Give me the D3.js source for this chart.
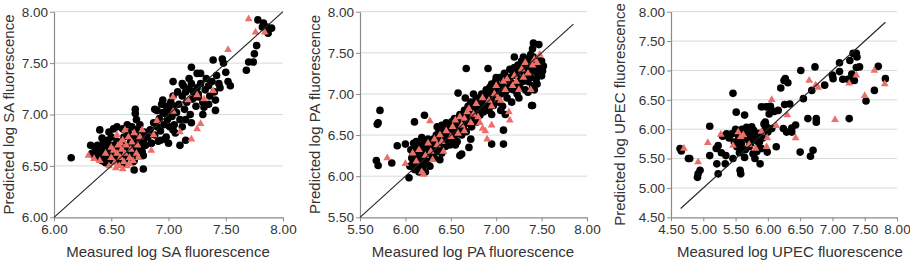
<!DOCTYPE html>
<html><head><meta charset="utf-8">
<script src="https://cdn.jsdelivr.net/npm/d3@7"></script>
<style>
html,body{margin:0;padding:0;background:#fff;}
svg{display:block;font-family:"Liberation Sans",Arial,Helvetica,sans-serif;}
</style></head>
<body>
<svg id="chart" width="910" height="262"></svg>
<script>
// ---------- DATA ----------
const saTicks = [6.00, 6.50, 7.00, 7.50, 8.00];
const paTicks = [5.50, 6.00, 6.50, 7.00, 7.50, 8.00];
const upecXTicks = [4.50, 5.00, 5.50, 6.00, 6.50, 7.00, 7.50, 8.00];
const upecYTicks = [4.50, 5.00, 5.50, 6.00, 6.50, 7.00, 7.50, 8.00];

const saXTitle = "Measured log SA fluorescence";
const saYTitle = "Predicted log SA fluorescence";
const paXTitle = "Measured log PA fluorescence";
const paYTitle = "Predicted log PA fluorescence";
const upecXTitle = "Measured log UPEC fluorescence";
const upecYTitle = "Predicted log UPEC fluorescence";

const saLine = [[6.0, 6.0], [8.0, 8.0]];
const paLine = [[5.5, 5.5], [7.85, 7.85]];
const upecLine = [[4.65, 4.65], [7.82, 7.82]];

const saBlack = [
[6.15,6.58],[6.32,6.70],[6.40,6.85],[6.55,6.88],[6.64,6.90],[6.71,7.05],[6.71,7.01],[6.69,6.54],[6.70,6.46],[6.78,6.47],
[6.88,7.05],[6.95,7.14],[6.97,7.01],[7.04,7.32],[7.12,7.30],[7.20,7.46],[7.28,7.40],[7.39,7.53],[7.47,7.54],[7.48,7.50],
[7.50,7.41],[7.52,7.32],[7.54,7.28],[7.41,7.04],[7.41,7.14],[7.31,7.07],[7.26,7.17],[7.15,6.75],[7.12,6.88],[7.04,6.85],
[6.98,6.78],[6.93,6.75],[6.85,6.72],[7.68,7.43],[7.70,7.51],[7.74,7.51],[7.75,7.59],[7.77,7.67],[7.78,7.92],[7.83,7.89],
[7.86,7.85],[7.87,7.79],[7.90,7.84],[7.82,7.85],
[6.33,6.62],[6.35,6.60],[6.36,6.65],[6.38,6.58],[6.40,6.62],[6.41,6.68],[6.42,6.55],[6.43,6.72],[6.44,6.64],[6.45,6.60],
[6.46,6.70],[6.47,6.75],[6.48,6.57],[6.49,6.66],[6.50,6.62],[6.50,6.78],[6.51,6.55],[6.52,6.70],[6.53,6.64],[6.54,6.58],
[6.55,6.74],[6.45,6.53],[6.38,6.70],[6.42,6.77],[6.48,6.83],[6.52,6.86],
[6.56,6.60],[6.57,6.68],[6.58,6.54],[6.59,6.72],[6.60,6.63],[6.61,6.78],[6.62,6.57],[6.63,6.70],[6.64,6.65],[6.65,6.82],
[6.66,6.60],[6.67,6.74],[6.68,6.68],[6.69,6.79],[6.70,6.62],[6.71,6.72],[6.72,6.85],[6.73,6.66],[6.74,6.76],[6.75,6.70],
[6.76,6.80],[6.77,6.64],[6.78,6.74],[6.79,6.83],[6.80,6.70],[6.72,6.95],[6.75,6.90],[6.68,6.88],[6.60,6.86],[6.62,6.52],
[6.70,6.55],[6.78,6.60],
[6.82,6.78],[6.84,6.85],[6.85,6.72],[6.87,6.92],[6.88,6.80],[6.90,6.88],[6.91,6.74],[6.92,6.96],[6.93,6.84],[6.95,7.02],
[6.96,6.90],[6.97,6.76],[6.98,7.08],[6.99,6.95],[7.00,7.05],[7.01,6.88],[7.02,7.12],[7.03,6.98],[7.04,7.18],[7.05,7.08],
[7.06,6.82],[7.07,7.02],[7.08,7.22],[7.09,7.10],[7.10,6.95],[6.94,7.10],[6.90,7.04],[7.00,6.72],[7.05,6.90],[7.10,6.70],
[7.12,7.18],[7.13,7.28],[7.14,7.05],[7.15,7.22],[7.16,7.12],[7.18,7.25],[7.19,7.00],[7.20,7.30],[7.21,7.15],[7.22,7.22],
[7.24,7.08],[7.25,7.26],[7.26,7.20],[7.28,7.30],[7.30,7.12],[7.32,7.24],[7.33,7.35],[7.35,7.28],[7.36,7.18],[7.38,7.32],
[7.40,7.22],[7.42,7.38],[7.44,7.30],[7.45,7.26],[7.30,7.00],[7.20,6.92],[7.15,6.95],[7.25,7.40],[7.35,7.10],[7.18,7.35]
];
const saRed = [
[7.70,7.93],[7.76,7.80],[7.84,7.80],[7.52,7.63],[7.39,7.23],[7.31,7.15],[7.25,7.19],[7.17,7.14],[7.04,7.17],[7.04,7.03],
[7.10,6.83],[7.25,6.86],[7.20,6.76],[7.28,6.91],[6.85,6.65],[6.87,6.80],[6.90,6.94],
[6.30,6.60],[6.35,6.57],[6.40,6.55],[6.45,6.62],[6.48,6.50],[6.50,6.58],[6.52,6.65],[6.53,6.53],[6.55,6.62],[6.56,6.70],
[6.57,6.50],[6.58,6.58],[6.59,6.66],[6.60,6.75],[6.61,6.54],[6.62,6.62],[6.63,6.70],[6.64,6.50],[6.65,6.78],[6.66,6.58],
[6.67,6.66],[6.68,6.73],[6.69,6.55],[6.70,6.82],[6.72,6.62],[6.73,6.70],[6.75,6.78],[6.77,6.85],[6.55,6.80],[6.62,6.85],
[6.58,6.72],[6.50,6.68],[6.66,6.52],[6.74,6.58],[6.54,6.48],[6.60,6.47]
];

const paBlack = [
[5.72,6.80],[5.70,6.65],[5.69,6.63],[5.68,6.19],[5.70,6.13],[5.85,6.16],[5.91,6.37],[6.00,6.39],[6.04,5.98],[6.10,6.66],
[6.21,6.74],[6.67,7.31],[6.91,7.31],[6.95,6.39],[7.08,6.39],[7.08,6.56],[7.40,6.86],[7.39,6.86],[7.41,7.62],[7.47,7.60],
[7.40,7.55],[6.62,6.27],[6.60,6.25],[6.58,7.01],
[6.06,6.32],[6.07,6.22],[6.08,6.15],[6.09,6.40],[6.10,6.28],[6.10,6.08],[6.11,6.35],[6.12,6.20],[6.13,6.12],[6.14,6.30],
[6.15,6.25],[6.15,6.05],[6.16,6.38],[6.17,6.18],[6.18,6.28],[6.19,6.10],[6.20,6.33],[6.20,6.22],[6.21,6.42],[6.22,6.15],
[6.23,6.27],[6.24,6.36],[6.25,6.20],[6.26,6.30],[6.27,6.12],[6.28,6.40],[6.29,6.25],[6.30,6.33],[6.08,6.25],[6.12,6.42],
[6.18,6.47],[6.25,6.45],[6.05,6.12],[6.22,6.05],
[6.31,6.45],[6.32,6.22],[6.33,6.38],[6.34,6.50],[6.35,6.30],[6.36,6.42],[6.37,6.55],[6.38,6.35],[6.39,6.46],[6.40,6.28],
[6.41,6.52],[6.42,6.40],[6.43,6.60],[6.44,6.36],[6.45,6.48],[6.46,6.56],[6.47,6.44],[6.48,6.62],[6.49,6.38],[6.50,6.52],
[6.51,6.66],[6.52,6.45],[6.53,6.58],[6.54,6.70],[6.55,6.50],[6.56,6.62],[6.57,6.42],[6.58,6.68],[6.59,6.56],[6.60,6.75],
[6.35,6.60],[6.40,6.62],[6.45,6.65],[6.50,6.40],[6.55,6.38],[6.38,6.20],
[6.61,6.62],[6.62,6.50],[6.63,6.72],[6.64,6.58],[6.65,6.80],[6.66,6.66],[6.67,6.54],[6.68,6.76],[6.69,6.85],[6.70,6.64],
[6.71,6.72],[6.72,6.90],[6.73,6.60],[6.74,6.80],[6.75,6.70],[6.76,6.88],[6.77,6.76],[6.78,6.95],[6.79,6.66],[6.80,6.84],
[6.81,6.92],[6.82,6.74],[6.83,6.82],[6.84,7.00],[6.85,6.88],[6.86,6.78],[6.87,6.96],[6.88,6.85],[6.89,7.05],[6.90,6.92],
[6.70,6.35],[6.72,6.45],[6.66,6.95],[6.75,7.00],
[6.91,7.00],[6.92,6.80],[6.93,7.08],[6.94,6.90],[6.95,7.12],[6.96,6.98],[6.97,6.86],[6.98,7.05],[6.99,7.15],[7.00,6.95],
[7.01,7.02],[7.02,7.10],[7.03,6.90],[7.04,7.20],[7.05,7.00],[7.06,7.08],[7.07,6.85],[7.08,7.15],[7.09,7.25],[7.10,7.02],
[7.11,7.12],[7.12,6.95],[7.13,7.20],[7.14,7.06],[7.15,7.30],[7.16,7.14],[7.17,6.90],[7.18,7.22],[7.19,7.05],[7.20,7.32],
[7.00,7.20],[7.05,6.80],[7.10,6.75],[6.95,6.75],
[7.21,7.12],[7.22,7.25],[7.23,7.00],[7.24,7.35],[7.25,7.18],[7.26,7.08],[7.27,7.28],[7.28,7.40],[7.29,7.15],[7.30,7.32],
[7.31,7.22],[7.32,7.05],[7.33,7.38],[7.34,7.26],[7.35,7.15],[7.36,7.42],[7.37,7.30],[7.38,7.20],[7.39,7.35],[7.40,7.10],
[7.41,7.45],[7.42,7.28],[7.43,7.38],[7.44,7.18],[7.45,7.32],[7.46,7.24],[7.47,7.40],[7.48,7.30],[7.49,7.36],[7.50,7.22],
[7.51,7.28],[7.52,7.34],[7.30,7.45],[7.35,7.02],[7.25,6.95],[7.38,7.48],[7.45,7.12],[7.20,7.45],[7.42,7.05],[7.50,7.40]
];
const paRed = [
[5.80,6.22],[6.00,6.15],[6.08,6.28],[6.12,6.18],[6.15,6.32],[6.18,6.05],[6.20,6.02],[6.22,6.25],[6.25,6.40],[6.27,6.67],
[6.28,6.30],[6.30,6.20],[6.32,6.45],[6.35,6.38],[6.38,6.50],[6.40,6.42],[6.45,6.55],[6.50,6.48],[6.52,6.60],[6.55,6.68],
[6.58,6.52],[6.60,6.72],[6.62,6.62],[6.65,6.70],[6.68,6.78],[6.70,6.82],[6.72,6.65],[6.75,6.75],[6.78,6.88],[6.80,6.72],
[6.82,6.65],[6.85,6.58],[6.88,6.55],[6.90,6.45],[6.92,6.92],[6.95,6.62],[6.95,6.85],[6.98,7.00],[7.00,7.10],[7.02,6.95],
[7.05,6.92],[7.08,7.15],[7.10,7.05],[7.12,7.18],[7.14,6.78],[7.15,6.68],[7.18,7.10],[7.20,7.22],[7.22,7.15],[7.25,7.05],
[7.28,7.30],[7.30,7.20],[7.32,7.38],[7.35,7.25],[7.38,7.05],[7.40,7.35],[7.42,7.42],[7.45,7.38],[7.48,7.48],[6.85,6.95],
[6.65,6.55],[6.42,6.30]
];

const upecBlack = [
[4.64,5.67],[4.66,5.63],[4.77,5.50],[4.79,5.50],[4.91,5.18],[4.92,5.24],[4.95,5.30],[5.10,6.05],[5.10,5.55],[5.20,5.67],
[5.21,5.41],[5.23,5.72],[5.23,5.24],[5.34,5.41],[5.35,5.55],[5.36,5.92],[5.44,5.92],[5.46,6.61],[5.46,5.50],[5.50,6.00],
[5.51,6.29],[5.54,5.81],[5.54,5.90],[5.57,5.30],[5.58,5.24],[5.59,5.75],[5.59,5.64],[5.62,5.97],[5.64,6.24],[5.64,5.52],
[5.67,6.03],[5.70,5.81],[5.71,5.70],[5.72,5.92],[5.75,6.04],[5.76,5.87],[5.77,5.58],[5.80,5.90],[5.80,5.50],[5.82,5.81],
[5.85,5.70],[5.87,5.78],[5.88,5.41],[5.90,6.38],[5.90,5.67],[5.94,6.09],[5.95,5.98],[5.97,6.38],[5.98,6.04],[5.99,5.61],
[6.01,6.38],[6.02,6.26],[6.04,6.39],[6.06,6.01],[6.13,5.70],[6.16,6.32],[6.25,6.83],[6.24,6.01],[6.26,6.42],[6.29,5.95],
[6.27,6.86],[6.31,6.79],[6.34,6.43],[6.37,6.02],[6.37,5.95],[6.43,6.07],[6.50,5.61],[6.51,7.00],[6.55,6.52],[6.62,6.18],
[6.66,5.54],[6.68,6.66],[6.70,5.64],[6.73,7.06],[6.75,6.18],[6.75,6.12],[6.88,6.75],[7.00,6.92],[7.01,6.86],[7.11,7.13],
[7.11,6.98],[7.16,6.85],[7.24,6.85],[7.26,6.18],[7.27,7.17],[7.30,6.94],[7.32,7.29],[7.37,7.29],[7.38,7.23],[7.37,7.05],
[7.42,7.06],[7.29,6.83],[7.34,6.83],[7.52,6.48],[7.65,6.66],[7.71,7.07],[7.82,6.86],
[5.40,5.85],[5.48,5.78],[5.56,5.60],[5.62,5.85],[5.68,5.95],[5.73,5.75],[5.78,5.98],[5.83,5.62],[5.86,5.93],[5.92,5.85],
[5.96,6.12],[6.00,5.95],[5.52,5.70],[5.60,6.00],[5.65,5.65],[5.30,5.88],[5.28,5.60],[6.10,6.30],[6.20,6.70]
];
const upecRed = [
[4.70,5.67],[4.92,5.44],[5.07,5.77],[5.27,5.91],[5.46,5.72],[5.54,5.95],[5.58,5.87],[5.62,5.90],[5.71,5.74],[5.81,5.67],
[5.90,5.96],[5.98,5.70],[5.99,5.85],[6.06,6.50],[6.13,6.06],[6.30,6.24],[6.43,5.85],[6.64,6.83],[6.74,6.75],[6.78,6.71],
[7.04,6.16],[7.26,6.78],[7.37,6.92],[7.50,6.57],[7.65,7.00],[7.81,6.77]
];

// ---------- DRAW ----------
const svg = d3.select("#chart");
const panels = [
  {x0:54, x1:283, xDom:[6,8], yDom:[6,8], xTicks:saTicks, yTicks:saTicks, black:saBlack, red:saRed, line:saLine,
   xTitle:saXTitle, yTitle:saYTitle, xTitleX:168, yTitleX:8},
  {x0:360, x1:587, xDom:[5.5,8], yDom:[5.5,8], xTicks:paTicks, yTicks:paTicks, black:paBlack, red:paRed, line:paLine,
   xTitle:paXTitle, yTitle:paYTitle, xTitleX:473, yTitleX:314},
  {x0:671, x1:897, xDom:[4.5,8], yDom:[4.5,8], xTicks:upecXTicks, yTicks:upecYTicks, black:upecBlack, red:upecRed, line:upecLine,
   xTitle:upecXTitle, yTitle:upecYTitle, xTitleX:790, yTitleX:619}
];
const yTop = 11.7, yBot = 217.3;
const textCol = "#333";

panels.forEach(p => {
  const x = d3.scaleLinear().domain(p.xDom).range([p.x0, p.x1]);
  const y = d3.scaleLinear().domain(p.yDom).range([yBot, yTop]);
  const g = svg.append("g");

  g.append("g").selectAll("line").data(p.yTicks.slice(1)).join("line")
    .attr("x1", p.x0).attr("x2", p.x1)
    .attr("y1", d => y(d)).attr("y2", d => y(d))
    .attr("stroke", "#d9d9d9").attr("stroke-width", 1);

  const ya = g.append("g").attr("transform", `translate(${p.x0},0)`)
    .call(d3.axisLeft(y).tickValues(p.yTicks).tickFormat(d3.format(".2f")).tickSize(4).tickPadding(2).tickSizeOuter(0));
  const xa = g.append("g").attr("transform", `translate(0,${yBot})`)
    .call(d3.axisBottom(x).tickValues(p.xTicks).tickFormat(d3.format(".2f")).tickSize(4).tickPadding(3).tickSizeOuter(0));
  [ya, xa].forEach(a => {
    a.select(".domain").attr("stroke", "#8a8a8a").attr("stroke-width", 1.2);
    a.selectAll(".tick line").attr("stroke", "#8a8a8a");
    a.selectAll(".tick text").attr("fill", textCol).style("font-size", "13.5px")
      .style("font-family", '"Liberation Sans",Arial,sans-serif');
  });

  g.append("g").selectAll("circle").data(p.black).join("circle")
    .attr("cx", d => x(d[0])).attr("cy", d => y(d[1])).attr("r", 3.8).attr("fill", "#000");
  const tri = d3.symbol().type(d3.symbolTriangle).size(26);
  g.append("g").selectAll("path").data(p.red).join("path")
    .attr("d", tri).attr("transform", d => `translate(${x(d[0])},${y(d[1])})`)
    .attr("fill", "#ec7068");

  g.append("line")
    .attr("x1", x(p.line[0][0])).attr("y1", y(p.line[0][1]))
    .attr("x2", x(p.line[1][0])).attr("y2", y(p.line[1][1]))
    .attr("stroke", "#222").attr("stroke-width", 1.1);

  g.append("text").attr("x", p.xTitleX).attr("y", 257).attr("text-anchor", "middle")
    .attr("fill", textCol).style("font-size", "15px").text(p.xTitle);
  g.append("text").attr("transform", `translate(${p.yTitleX + 5.5},${(yTop + yBot) / 2}) rotate(-90)`)
    .attr("text-anchor", "middle").attr("fill", textCol).style("font-size", "15px").text(p.yTitle);
});
</script>
</body></html>
